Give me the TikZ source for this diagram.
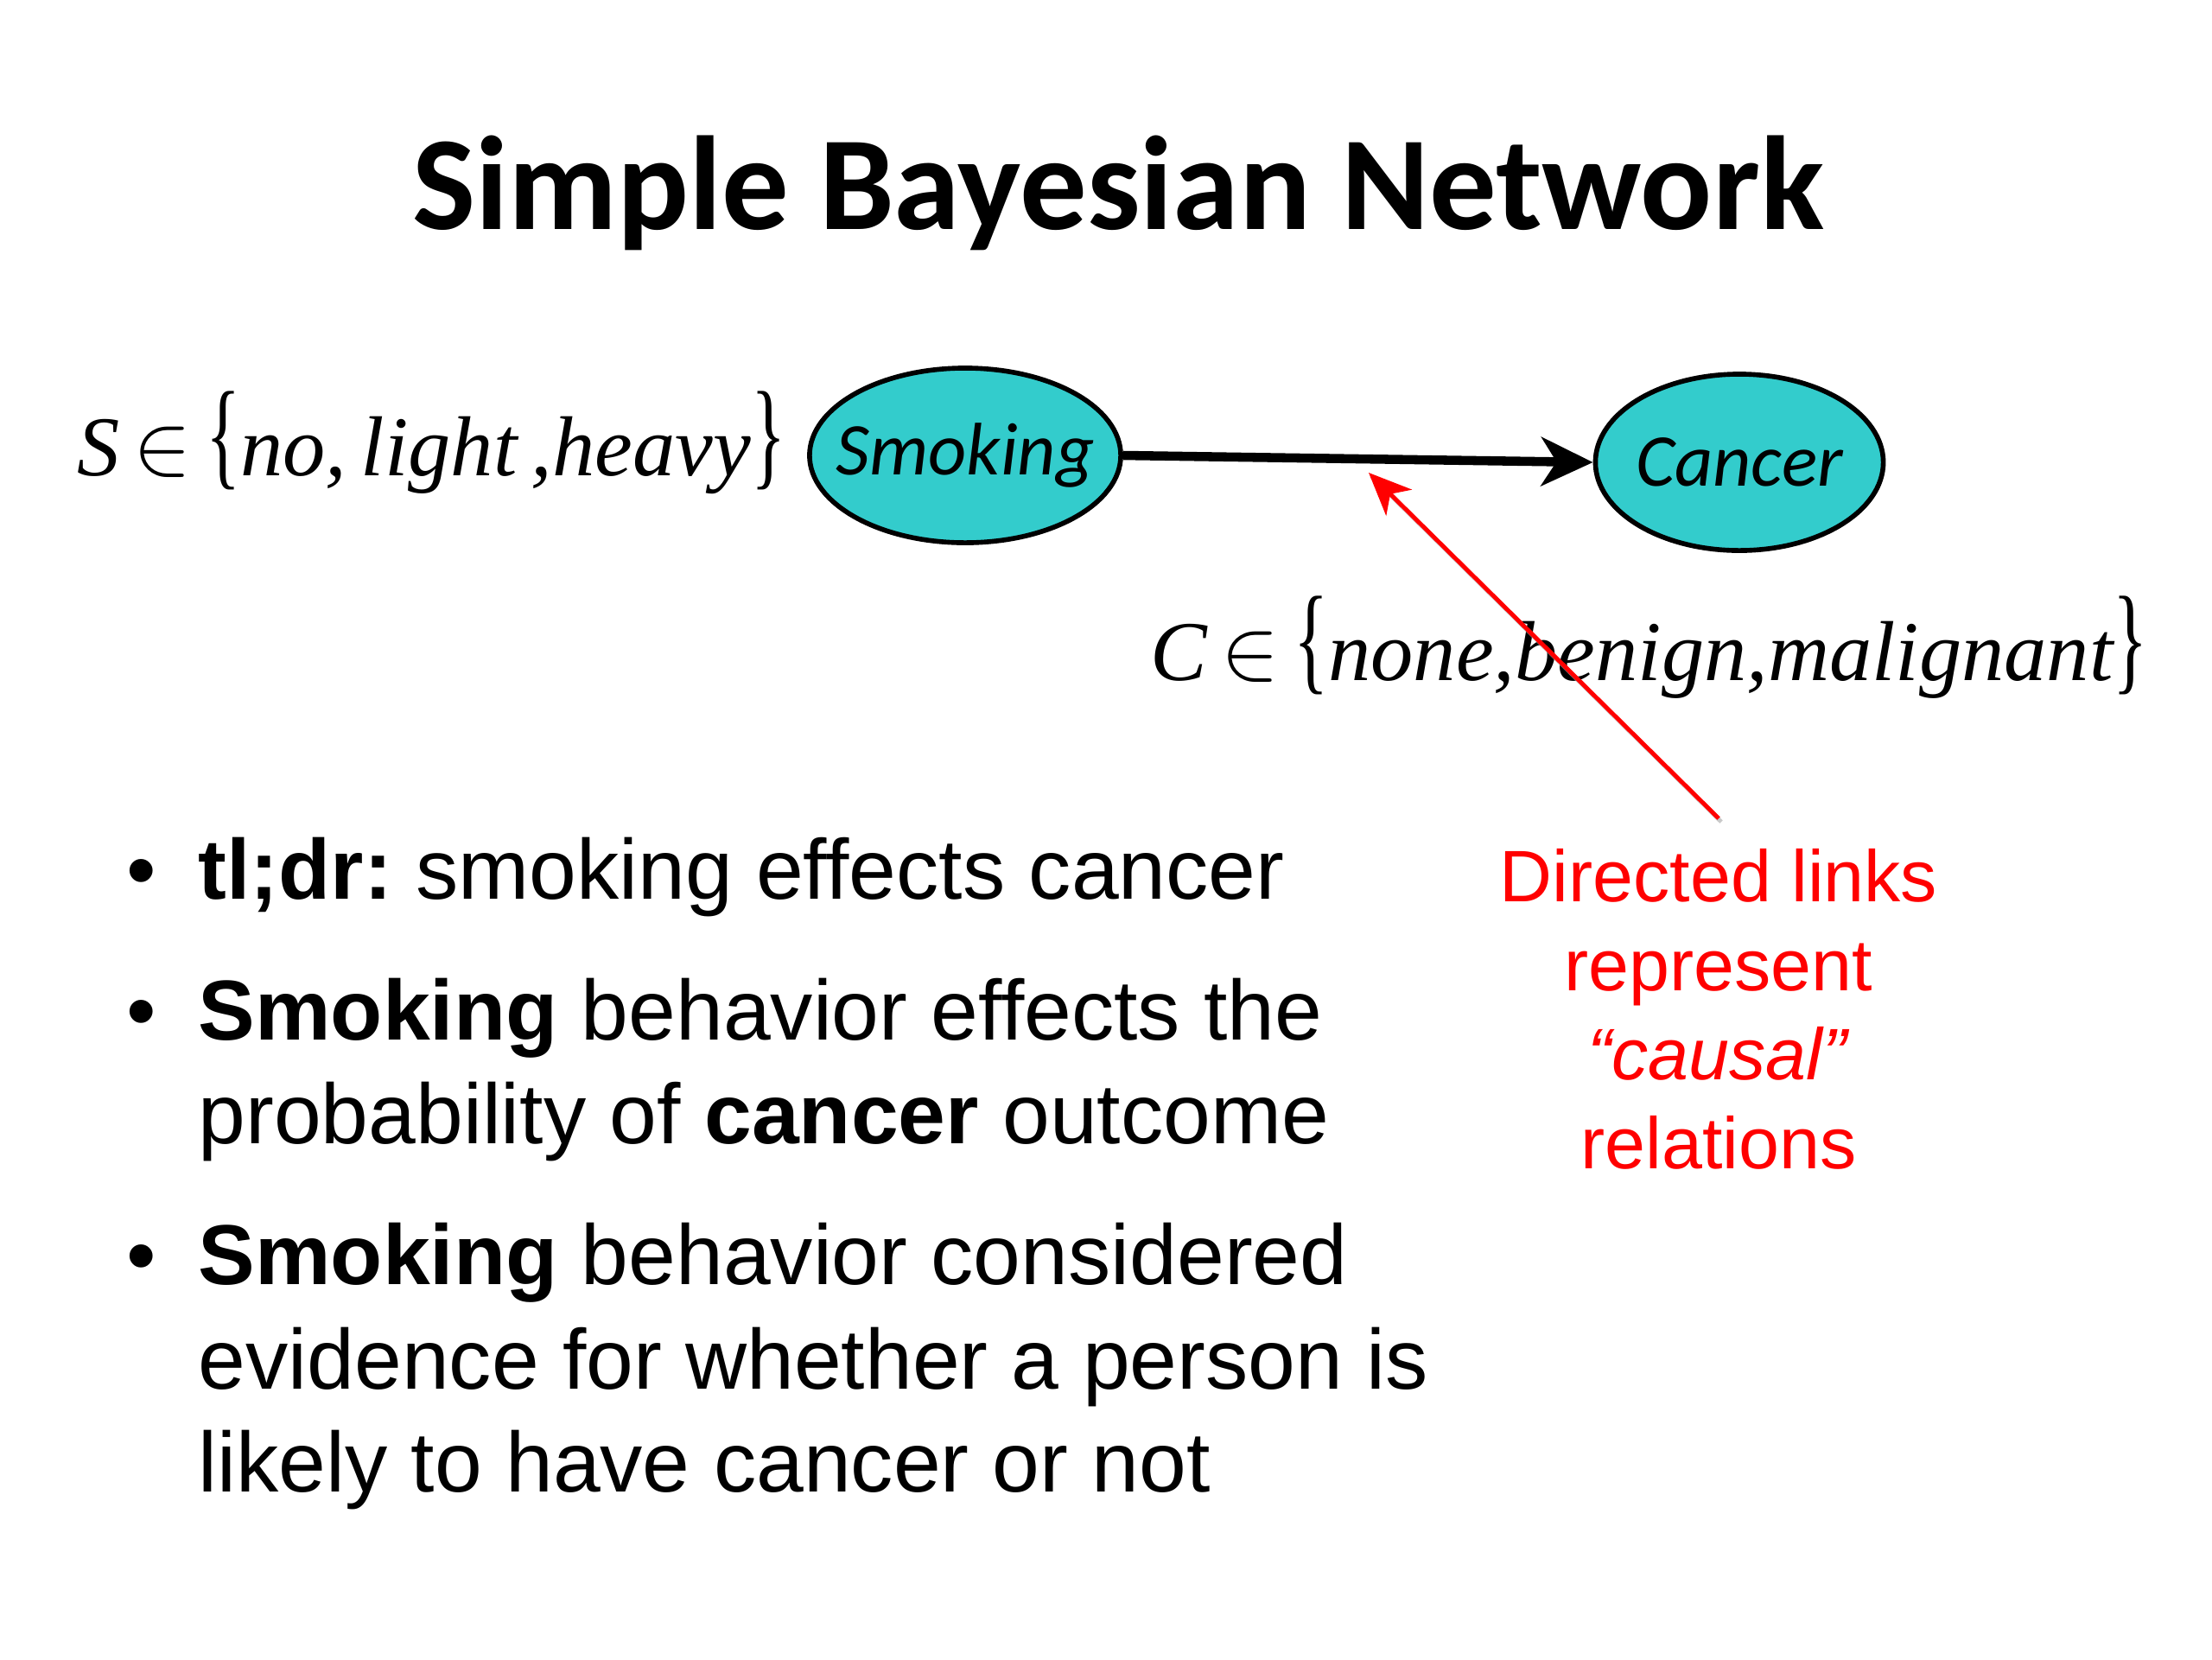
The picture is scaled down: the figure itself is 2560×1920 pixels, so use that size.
\documentclass[tikz,border=0pt]{standalone}
\usepackage{fontspec}
\usepackage{graphicx}
\setmainfont{Liberation Sans}
\newfontfamily\titlefont{Carlito}
\newfontfamily\serfont{Liberation Serif}
\usetikzlibrary{shapes.geometric,arrows.meta}
\definecolor{turq}{RGB}{51,204,204}
\definecolor{slidered}{RGB}{255,0,0}
\newcommand\tallbr[1]{\raisebox{0.02em}{\scalebox{0.85}[1.4]{\upshape #1}}}
\newcommand\bigin{\,\raisebox{0.02em}{\scalebox{1.15}{$\in$}}\,}
\tikzset{
  bnode/.style={ellipse,draw=black,line width=1.6pt,fill=turq,inner sep=0pt},
  bnodetext/.style={font=\titlefont\itshape\fontsize{24.5}{28}\selectfont,inner sep=0pt},
  mathlbl/.style={inner sep=0pt,font=\serfont\itshape\fontsize{28}{34}\selectfont},
  bline/.style={anchor=base west,inner sep=0pt,font=\fontsize{28}{34}\selectfont},
  bdot/.style={anchor=base west,inner sep=0pt,font=\fontsize{28}{34}\selectfont},
  redtxt/.style={align=center,inner sep=0pt,text=slidered,font=\fontsize{24}{29.3}\selectfont}
}
\begin{document}
\begin{tikzpicture}[x=0.01cm,y=-0.01cm]
\useasboundingbox[fill=white] (0,0) rectangle (2560,1920);
% title
\node[anchor=base,inner sep=0pt,font=\titlefont\bfseries\fontsize{44}{50}\selectfont] (title) at (1294,265) {Simple Bayesian Network};
% nodes
\node[bnode,minimum width=3.6cm,minimum height=2.02cm,label={[bnodetext]center:Smoking}] (smoking) at (1117,527) {};
\node[bnode,minimum width=3.33cm,minimum height=2.04cm,label={[bnodetext]center:Cancer}] (cancer) at (2013,535) {};
\draw[line width=3pt,-{Stealth[length=17pt,width=16pt,inset=5pt]}] (smoking.east) -- (cancer.west);
% labels
\node[mathlbl,anchor=base east] (slabel) at (910,550) {S\bigin\tallbr{\{}no,\,light\,,heavy\tallbr{\}}};
\node[mathlbl,anchor=base west] (clabel) at (1331,787) {C\bigin\tallbr{\{}none,benign,malignant\tallbr{\}}};
% red annotation
\node[redtxt,anchor=north] (note) at (1989,982) {Directed links\\represent\\\textit{“causal”}\\relations};
\coordinate (redstart) at (1989,947);
\coordinate (redtip) at (1584,547);
\draw[black!35,line width=1.4pt,opacity=0.6] ([shift={(3,4)}]redstart) -- ([shift={(3,4)}]redtip);
\draw[slidered,line width=1.4pt,-{Stealth[length=14pt,width=12pt,inset=4pt]}] (redstart) -- (redtip);
% bullets
\node[bdot] (d1) at (146,1040) {•};
\node[bline] (l1) at (229,1040) {\textbf{tl;dr:}\ smoking effects cancer};
\node[bdot] (d2) at (146,1203) {•};
\node[bline] (l2) at (229,1203) {\textbf{Smoking} behavior effects the};
\node[bline] (l3) at (229,1323) {probability of \textbf{cancer} outcome};
\node[bdot] (d3) at (146,1486) {•};
\node[bline] (l4) at (229,1486) {\textbf{Smoking} behavior considered};
\node[bline] (l5) at (229,1607) {evidence for whether a person is};
\node[bline] (l6) at (229,1726) {likely to have cancer or not};
\end{tikzpicture}
\end{document}
